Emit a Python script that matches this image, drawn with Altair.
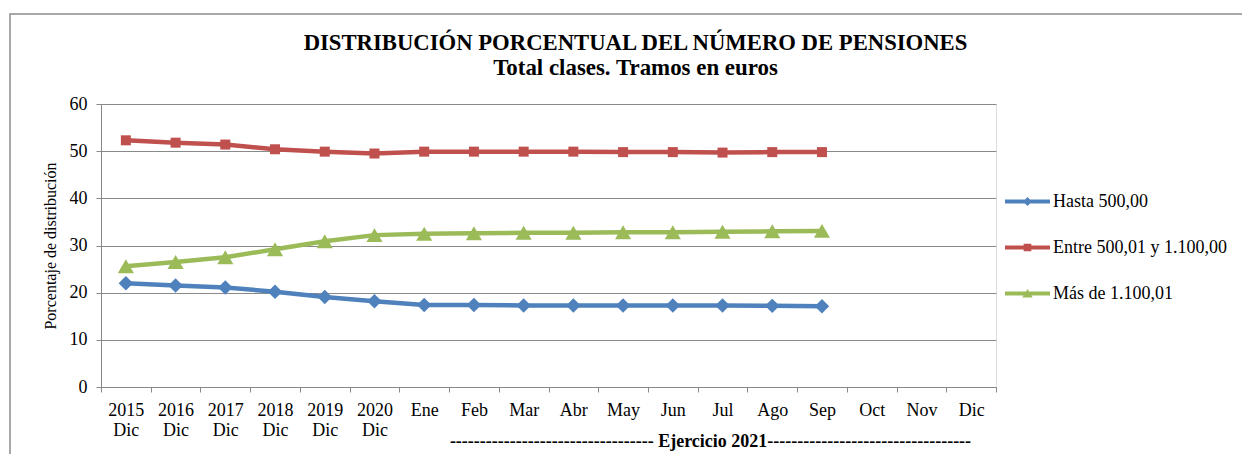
import altair as alt
import pandas as pd

# ---- data ----
categories = ["2015 Dic", "2016 Dic", "2017 Dic", "2018 Dic", "2019 Dic", "2020 Dic",
              "Ene", "Feb", "Mar", "Abr", "May", "Jun", "Jul", "Ago", "Sep",
              "Oct", "Nov", "Dic"]
series_names = ["Hasta 500,00", "Entre 500,01 y 1.100,00", "Más de 1.100,01"]
hasta_500 = [22.0, 21.5, 21.1, 20.2, 19.1, 18.2, 17.4, 17.4, 17.3, 17.3, 17.3, 17.3, 17.3, 17.2, 17.1]
entre_500_1100 = [52.3, 51.8, 51.4, 50.4, 49.9, 49.5, 49.9, 49.9, 49.9, 49.9, 49.8, 49.8, 49.7, 49.8, 49.8]
mas_1100 = [25.6, 26.5, 27.5, 29.2, 30.9, 32.2, 32.5, 32.6, 32.7, 32.7, 32.8, 32.8, 32.9, 33.0, 33.1]
y_ticks = [0, 10, 20, 30, 40, 50, 60]

colors = ["#4F81BD", "#C0504D", "#9BBB59"]
shapes = ["diamond", "square", "triangle-up"]
marker_sizes = [210, 100, 260]
legend_shapes = [
    "M-1,-0.09L1,-0.09L1,0.09L-1,0.09Z M0,-0.2L0.2,0L0,0.2L-0.2,0Z",
    "M-1,-0.09L1,-0.09L1,0.09L-1,0.09Z M-0.17,-0.17L0.17,-0.17L0.17,0.17L-0.17,0.17Z",
    "M-1,-0.09L1,-0.09L1,0.09L-1,0.09Z M0,-0.2L0.23,0.18L-0.23,0.18Z",
]

rows = []
for name, vals in zip(series_names, [hasta_500, entre_500_1100, mas_1100]):
    for cat, v in zip(categories, vals):
        rows.append({"cat": cat, "serie": name, "valor": v})
df = pd.DataFrame(rows)

FONT = "Liberation Serif"
W, H = 895, 283

dashes = "-" * 34
x_axis = alt.Axis(
    labelExpr="datum.value ? split(datum.value, ' ') : ''", labelAngle=0, labelFont=FONT,
    labelFontSize=18, labelColor="black", labelLineHeight=20, labelOverlap=False,
    labelBound=False, labelPadding=9, labelBaseline="top",
    tickBand="extent", tickSize=5, tickColor="#888888", domainColor="#888888",
    grid=False,
    title=f"{dashes} Ejercicio 2021{dashes}", titleFont=FONT, titleFontSize=18,
    titleFontWeight="bold", titleColor="black", titleX=609, titleY=59,
    titleAlign="center", titleBaseline="alphabetic",
)
y_axis = alt.Axis(
    values=y_ticks, labelFont=FONT, labelFontSize=18, labelColor="black", labelPadding=9,
    tickSize=5, tickColor="#888888", domainColor="#888888",
    grid=True, gridColor="#8a8a8a", gridWidth=1,
    title="Porcentaje de distribución", titleFont=FONT, titleFontSize=16,
    titleFontWeight="normal", titleColor="black", titleX=-51, titleY=H / 2,
    titleAngle=-90, titleAlign="center", titleBaseline="middle",
)

x_enc = alt.X("cat:N", sort=categories,
              scale=alt.Scale(type="band", domain=categories, paddingInner=0, paddingOuter=0),
              axis=x_axis)
y_enc = alt.Y("valor:Q", scale=alt.Scale(domain=[0, 60], nice=False), axis=y_axis)
color_scale = alt.Scale(domain=series_names, range=colors)

base = alt.Chart(df)

line_layers = []
point_layers = []
for name, shp, sz, col in zip(series_names, shapes, marker_sizes, colors):
    sub = base.transform_filter(alt.datum.serie == name)
    line_layers.append(sub.mark_line(strokeWidth=4.5, color=col).encode(x=x_enc, y=y_enc))
    point_layers.append(
        sub.mark_point(filled=True, opacity=1, shape=shp, size=sz, color=col)
        .encode(x=x_enc, y=y_enc)
    )

leg = alt.Legend(title=None, orient="none", legendX=904, legendY=75,
                 labelFont=FONT, labelFontSize=18, labelColor="black",
                 labelOffset=3, rowPadding=14, symbolSize=2025,
                 symbolOpacity=1, symbolStrokeWidth=0, labelLimit=300)

legend_layer = base.mark_point(filled=True, opacity=0, size=2025).encode(
    x=x_enc, y=y_enc,
    color=alt.Color("serie:N", scale=color_scale, legend=leg),
    shape=alt.Shape("serie:N", scale=alt.Scale(domain=series_names, range=legend_shapes),
                    legend=leg),
)

frame = alt.Chart(alt.Data(values=[{"f": 1}])).mark_rect(
    fill=None, stroke="#8c8c8c", strokeWidth=1.5
).encode(x=alt.value(-91), x2=alt.value(1300), y=alt.value(-90), y2=alt.value(600))

chart = alt.layer(frame, *line_layers, *point_layers, legend_layer).properties(
    width=W, height=H,
    padding={"left": 93, "top": 96, "right": 246, "bottom": 67},
    autosize=alt.AutoSizeParams(type="none"),
    title=alt.TitleParams(
        text="DISTRIBUCIÓN PORCENTUAL DEL NÚMERO DE PENSIONES",
        subtitle="Total clases. Tramos en euros",
        font=FONT, fontSize=22.7, fontWeight="bold", color="black",
        subtitleFont=FONT, subtitleFontSize=22.9, subtitleFontWeight="bold",
        subtitleColor="black", subtitlePadding=3,
        anchor="middle", dx=87, dy=89, offset=22, frame="group",
    ),
).configure_view(stroke=None).configure(background="white")

chart.save("out.html", embed_options={"renderer": "svg", "actions": False})
